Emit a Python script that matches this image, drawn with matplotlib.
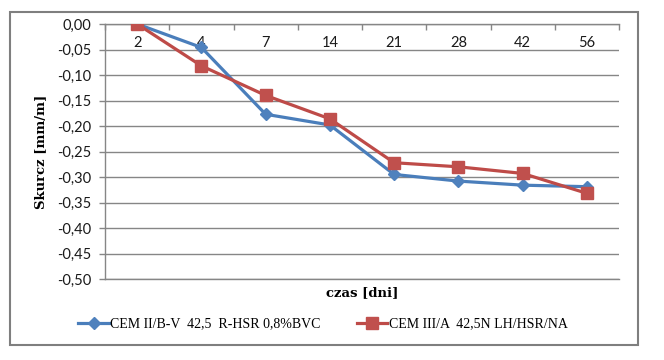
import matplotlib
matplotlib.use("Agg")
import matplotlib.pyplot as plt
from matplotlib.patches import Rectangle
import numpy as np

categories = ["2", "4", "7", "14", "21", "28", "42", "56"]
series_blue = [0.0, -0.046, -0.177, -0.198, -0.295, -0.308, -0.316, -0.319]
series_red = [0.0, -0.082, -0.140, -0.186, -0.272, -0.280, -0.293, -0.332]
label_blue = "CEM II/B-V  42,5  R-HSR 0,8%BVC"
label_red = "CEM III/A  42,5N LH/HSR/NA"
y_ticks = [0.0, -0.05, -0.10, -0.15, -0.20, -0.25, -0.30, -0.35, -0.40, -0.45, -0.50]

W, H = 664, 360
fig = plt.figure(figsize=(W / 100, H / 100), dpi=100)
fig.patch.set_facecolor("white")

# outer frame
fig.add_artist(Rectangle((10 / W, 1 - 345 / H), (638 - 10) / W, (345 - 12) / H,
                         transform=fig.transFigure, fill=False,
                         edgecolor="#7f7f7f", linewidth=1.5))

ax = fig.add_axes([105 / W, 1 - 279 / H, (619 - 105) / W, (279 - 24) / H])
x = np.arange(len(categories))

grid_c = "#868686"
ax.set_ylim(-0.50, 0.0)
ax.set_xlim(-0.5, len(categories) - 0.5)
ax.set_yticks(y_ticks)
ax.set_yticklabels([("%.2f" % v).replace(".", ",") if v != 0 else "0,00" for v in y_ticks],
                   family="Lato", fontsize=10.5, color="#1a1a1a")
ax.yaxis.grid(True, color=grid_c, linewidth=1.0)
ax.set_axisbelow(True)

# x axis at top (value 0) with boundary tick marks pointing down
ax.xaxis.set_ticks_position("top")
ax.set_xticks(np.arange(-0.5, len(categories), 1.0))
ax.set_xticklabels([])
ax.set_xticks(x, minor=True)
ax.set_xticklabels(categories, minor=True, family="Lato", fontsize=10.5, color="#1a1a1a")
ax.tick_params(axis="x", which="major", direction="in", length=4, color=grid_c, width=1.0)
ax.tick_params(axis="x", which="minor", length=0, pad=-19)
ax.tick_params(axis="y", direction="out", length=4, color=grid_c, width=1.0, pad=6)

for s in ["top", "left", "bottom"]:
    ax.spines[s].set_color(grid_c)
    ax.spines[s].set_linewidth(1.0)
ax.spines["right"].set_visible(False)

ax.plot(x, series_blue, color="#4A7EBB", linewidth=2.3, marker="D", markersize=6,
        markerfacecolor="#4F81BD", markeredgecolor="#4F81BD", label=label_blue, zorder=3)
ax.plot(x, series_red, color="#BE4B48", linewidth=2.3, marker="s", markersize=8,
        markerfacecolor="#C0504D", markeredgecolor="#C0504D", label=label_red, zorder=4)

ax.set_ylabel("Skurcz [mm/m]", family="DejaVu Serif", fontweight="bold", fontsize=9.5, labelpad=7)
fig.text(362 / W, 1 - 293 / H, "czas [dni]", family="DejaVu Serif", fontweight="bold",
         fontsize=9.5, ha="center", va="center")

leg = fig.legend(loc="center", bbox_to_anchor=(323 / W, 1 - 324 / H), ncol=2, frameon=False,
                 prop={"family": "Liberation Serif", "size": 10}, handlelength=2.2,
                 handletextpad=0.1, columnspacing=2.6)

fig.savefig("out.png", dpi=100, facecolor="white")
